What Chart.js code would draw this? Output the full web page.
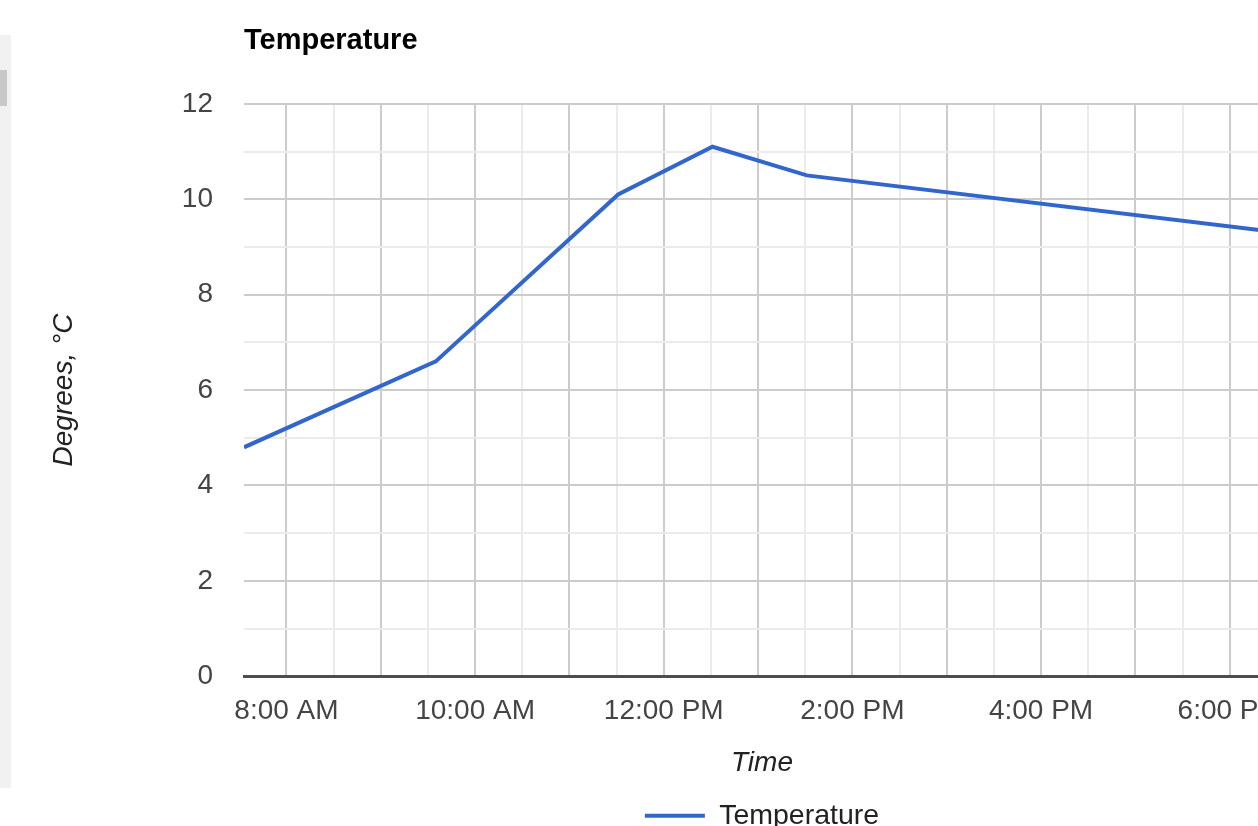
<!DOCTYPE html>
<html>
<head>
<meta charset="utf-8">
<title>Temperature</title>
<script src="https://cdn.jsdelivr.net/npm/chart.js@4.4.1/dist/chart.umd.min.js"></script>
<style>
  html, body { margin: 0; padding: 0; background: #fff; overflow: hidden; width: 1258px; height: 826px; }
  #sidebar { position: absolute; left: 0; top: 35px; width: 11px; height: 753px; background: #f1f1f1; }
  #sidebarThumb { position: absolute; left: 0; top: 70px; width: 7px; height: 36px; background: #c8c8c8; }
  #wrap { position: absolute; left: 0; top: 0; width: 1524px; height: 840px; }
</style>
</head>
<body>
<div id="sidebar"></div>
<div id="sidebarThumb"></div>
<div id="wrap"><canvas id="tempChart"></canvas></div>

<script>
// ===== data =====
const readingTimes = ["7:33", "9:35", "11:31", "12:31", "13:31", "18:32"];
const temperatures = [4.8, 6.6, 10.1, 11.1, 10.5, 9.3];

// ===== ticks =====
const xTickTimes = ["8:00", "10:00", "12:00", "14:00", "16:00", "18:00"];
const xTickLabels = ["8:00 AM", "10:00 AM", "12:00 PM", "2:00 PM", "4:00 PM", "6:00 PM"];
const yTickValues = [0, 2, 4, 6, 8, 10, 12];

const FONT = "'Liberation Sans', Arial, sans-serif";
const LINE_BLUE = "#3366CC";

// "HH:MM" -> minutes since midnight
function toMinutes(t) {
  const [h, m] = t.split(":").map(Number);
  return h * 60 + m;
}

const xMin = toMinutes(readingTimes[0]);
const xMax = toMinutes(readingTimes[readingTimes.length - 1]);
const xTickMinutes = xTickTimes.map(toMinutes);

Chart.defaults.font.family = FONT;

new Chart(document.getElementById("tempChart"), {
  type: "line",
  data: {
    datasets: [
      {
        label: "Temperature",
        data: readingTimes.map((t, i) => ({ x: toMinutes(t), y: temperatures[i] })),
        borderColor: LINE_BLUE,
        backgroundColor: LINE_BLUE,
        borderWidth: 4,
        pointRadius: 0,
        tension: 0,
        fill: false,
      },
    ],
  },
  options: {
    responsive: true,
    maintainAspectRatio: false,
    animation: false,
    layout: { padding: 0 },
    plugins: {
      title: {
        display: true,
        text: "Temperature",
        align: "start",
        fullSize: false,
        color: "#000",
        font: { size: 29, weight: "bold" },
        padding: { top: 24, bottom: 45 },
      },
      legend: {
        position: "bottom",
        labels: {
          boxWidth: 60,
          boxHeight: 4,
          padding: 10,
          color: "#222",
          font: { size: 28.5 },
          generateLabels(chart) {
            return Chart.defaults.plugins.legend.labels
              .generateLabels(chart)
              .map((item) => Object.assign(item, { lineWidth: 0, fillStyle: LINE_BLUE }));
          },
        },
      },
      tooltip: { enabled: false },
    },
    scales: {
      x: {
        type: "linear",
        min: xMin,
        max: xMax,
        afterBuildTicks(scale) {
          // every half hour: labelled hours get the darker line
          const ticks = [];
          for (let v = 480; v <= xMax; v += 30) ticks.push({ value: v });
          scale.ticks = ticks;
        },
        ticks: {
          autoSkip: false,
          maxRotation: 0,
          padding: 18,
          color: "#444",
          font: { size: 28 },
          callback(value) {
            const i = xTickMinutes.indexOf(value);
            return i >= 0 ? xTickLabels[i] : "";
          },
        },
        grid: {
          drawTicks: false,
          lineWidth: 2,
          color: (ctx) => (ctx.tick && ctx.tick.value % 60 === 0 ? "#cccccc" : "#ebebeb"),
        },
        border: { display: true, color: "#4d4d4d", width: 3 },
        title: {
          display: true,
          text: "Time",
          color: "#222",
          font: { size: 28, style: "italic" },
          padding: { top: 1, bottom: 11 },
        },
      },
      y: {
        min: 0,
        max: 12,
        afterFit(scale) {
          scale.width = 244;
        },
        ticks: {
          stepSize: 1,
          padding: 31,
          color: "#444",
          font: { size: 28 },
          callback(value) {
            return yTickValues.includes(value) ? String(value) : "";
          },
        },
        grid: {
          drawTicks: false,
          lineWidth: 2,
          color: (ctx) => {
            if (!ctx.tick || ctx.tick.value === 0) return "rgba(0,0,0,0)";
            return ctx.tick.value % 2 === 0 ? "#cccccc" : "#ebebeb";
          },
        },
        border: { display: false },
        title: {
          display: true,
          text: "Degrees, °C",
          color: "#222",
          font: { size: 28, style: "italic" },
          padding: { top: 47, bottom: 0 },
        },
      },
      // empty right margin so the plot and legend sit where the original does
      yRight: {
        position: "right",
        display: true,
        afterFit(scale) {
          scale.width = 244;
        },
        grid: { display: false },
        border: { display: false },
        ticks: { display: false },
      },
    },
  },
});
</script>
</body>
</html>
